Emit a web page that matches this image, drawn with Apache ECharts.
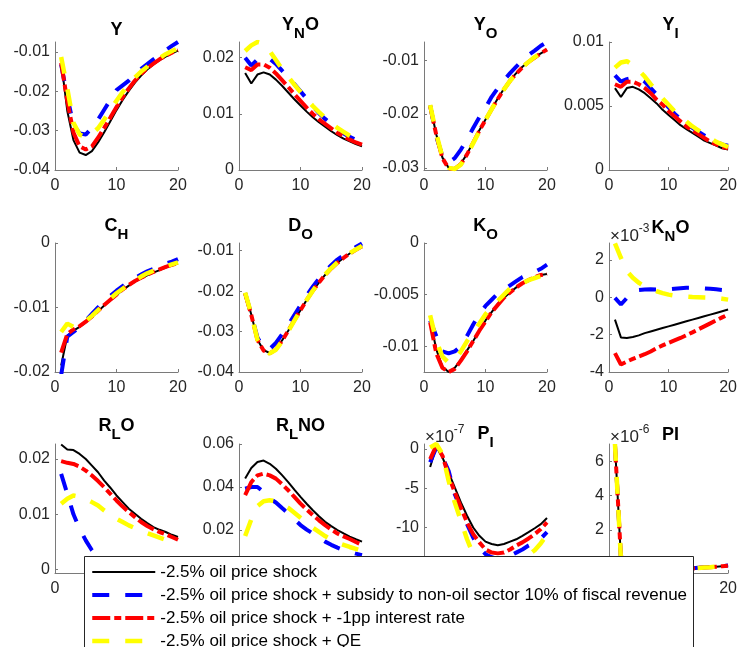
<!DOCTYPE html>
<html><head><meta charset="utf-8">
<script src="https://cdn.jsdelivr.net/npm/echarts@6/dist/echarts.min.js"></script>
<style>html,body{margin:0;padding:0;background:#fff}#c{width:740px;height:647px}</style>
</head><body><div id="c"></div>
<script>
// ---------------- DATA ----------------
const periods = [1,2,3,4,5,6,7,8,9,10,11,12,13,14,15,16,17,18,19,20];
const seriesNames = [
  '-2.5% oil price shock',
  '-2.5% oil price shock + subsidy to non-oil sector 10% of fiscal revenue',
  '-2.5% oil price shock + -1pp interest rate',
  '-2.5% oil price shock + QE'
];
const xTicks = [0, 10, 20];

// Y
const Y_base    = [-0.0125,-0.0250,-0.0324,-0.0356,-0.0362,-0.0352,-0.0330,-0.0304,-0.0276,-0.0248,-0.0222,-0.0199,-0.0178,-0.0160,-0.0145,-0.0132,-0.0121,-0.0112,-0.0104,-0.0097];
const Y_subsidy = [-0.0132,-0.0215,-0.0285,-0.0307,-0.0310,-0.0293,-0.0272,-0.0247,-0.0222,-0.0197,-0.0185,-0.0173,-0.0157,-0.0143,-0.0131,-0.0119,-0.0108,-0.0096,-0.0085,-0.0075];
const Y_rate    = [-0.0128,-0.0225,-0.0305,-0.0340,-0.0348,-0.0340,-0.0318,-0.0293,-0.0267,-0.0240,-0.0215,-0.0193,-0.0173,-0.0156,-0.0142,-0.0130,-0.0119,-0.0110,-0.0102,-0.0096];
const Y_qe      = [-0.0113,-0.0193,-0.0280,-0.0310,-0.0316,-0.0308,-0.0294,-0.0272,-0.0248,-0.0224,-0.0202,-0.0182,-0.0165,-0.0150,-0.0138,-0.0126,-0.0116,-0.0106,-0.0098,-0.0091];
const Y_ticks = [-0.04,-0.03,-0.02,-0.01];
// Y_NO
const YNO_base    = [0.0173,0.0154,0.0170,0.0174,0.0170,0.0161,0.0150,0.0138,0.0126,0.0115,0.0104,0.0094,0.0085,0.0077,0.0069,0.0062,0.0056,0.0051,0.0046,0.0042];
const YNO_subsidy = [0.0200,0.0186,0.0197,0.0201,0.0198,0.0189,0.0177,0.0165,0.0153,0.0140,0.0127,0.0114,0.0101,0.0091,0.0082,0.0073,0.0065,0.0059,0.0054,0.0049];
const YNO_rate    = [0.0183,0.0178,0.0188,0.0188,0.0182,0.0172,0.0160,0.0148,0.0135,0.0123,0.0111,0.0100,0.0090,0.0082,0.0074,0.0066,0.0060,0.0054,0.0049,0.0045];
const YNO_qe      = [0.0212,0.0222,0.0228,0.0225,0.0212,0.0196,0.0180,0.0166,0.0152,0.0139,0.0126,0.0114,0.0103,0.0093,0.0084,0.0075,0.0068,0.0061,0.0055,0.0050];
const YNO_ticks = [0,0.01,0.02];
// Y_O
const YO_base    = [-0.0184,-0.0238,-0.0281,-0.0300,-0.0301,-0.0292,-0.0274,-0.0252,-0.0230,-0.0210,-0.0190,-0.0171,-0.0153,-0.0137,-0.0124,-0.0112,-0.0103,-0.0094,-0.0087,-0.0080];
const YO_subsidy = [-0.0184,-0.0242,-0.0278,-0.0290,-0.0282,-0.0266,-0.0247,-0.0226,-0.0206,-0.0188,-0.0168,-0.0152,-0.0137,-0.0124,-0.0112,-0.0100,-0.0090,-0.0082,-0.0073,-0.0066];
const YO_rate    = [-0.0185,-0.0239,-0.0282,-0.0301,-0.0302,-0.0293,-0.0275,-0.0253,-0.0231,-0.0211,-0.0191,-0.0172,-0.0154,-0.0138,-0.0125,-0.0113,-0.0103,-0.0095,-0.0087,-0.0080];
const YO_qe      = [-0.0183,-0.0237,-0.0280,-0.0300,-0.0302,-0.0294,-0.0276,-0.0254,-0.0232,-0.0211,-0.0191,-0.0172,-0.0154,-0.0138,-0.0125,-0.0113,-0.0103,-0.0094,-0.0087,-0.0080];
const YO_ticks = [-0.03,-0.02,-0.01];
// Y_I
const YI_base    = [0.0064,0.0057,0.0064,0.0065,0.0063,0.0060,0.0056,0.0052,0.0047,0.0043,0.0039,0.0035,0.0032,0.0029,0.0026,0.0023,0.0021,0.0019,0.0017,0.0016];
const YI_subsidy = [0.0074,0.0069,0.0071,0.0072,0.0072,0.0069,0.0064,0.0059,0.0054,0.0049,0.0044,0.0040,0.0036,0.0033,0.0030,0.0027,0.0024,0.0022,0.0020,0.0019];
const YI_rate    = [0.0067,0.0065,0.0069,0.0069,0.0067,0.0064,0.0060,0.0055,0.0051,0.0046,0.0042,0.0038,0.0034,0.0031,0.0028,0.0025,0.0022,0.0020,0.0018,0.0017];
const YI_qe      = [0.0080,0.0084,0.0085,0.0082,0.0078,0.0073,0.0067,0.0062,0.0056,0.0051,0.0046,0.0042,0.0038,0.0034,0.0031,0.0028,0.0025,0.0022,0.0020,0.0018];
const YI_ticks = [0,0.005,0.01];
// C_H
const CH_base    = [-0.0190,-0.0144,-0.0136,-0.0130,-0.0123,-0.0115,-0.0106,-0.0097,-0.0089,-0.0081,-0.0073,-0.0066,-0.0060,-0.0055,-0.0050,-0.0046,-0.0042,-0.0038,-0.0035,-0.0032];
const CH_subsidy = [-0.0205,-0.0145,-0.0138,-0.0130,-0.0120,-0.0110,-0.0100,-0.0091,-0.0082,-0.0074,-0.0067,-0.0060,-0.0054,-0.0049,-0.0044,-0.0040,-0.0036,-0.0032,-0.0029,-0.0025];
const CH_rate    = [-0.0170,-0.0141,-0.0134,-0.0129,-0.0122,-0.0114,-0.0105,-0.0096,-0.0088,-0.0080,-0.0072,-0.0065,-0.0059,-0.0054,-0.0049,-0.0045,-0.0041,-0.0037,-0.0034,-0.0031];
const CH_qe      = [-0.0138,-0.0125,-0.0130,-0.0127,-0.0121,-0.0113,-0.0104,-0.0095,-0.0086,-0.0078,-0.0071,-0.0064,-0.0058,-0.0052,-0.0047,-0.0043,-0.0039,-0.0036,-0.0033,-0.0030];
const CH_ticks = [-0.02,-0.01,0];
// D_O
const DO_base    = [-0.0205,-0.0258,-0.0320,-0.0346,-0.0353,-0.0343,-0.0322,-0.0298,-0.0272,-0.0247,-0.0222,-0.0199,-0.0179,-0.0160,-0.0144,-0.0130,-0.0118,-0.0107,-0.0098,-0.0089];
const DO_subsidy = [-0.0205,-0.0257,-0.0315,-0.0340,-0.0343,-0.0328,-0.0307,-0.0284,-0.0259,-0.0235,-0.0211,-0.0189,-0.0169,-0.0151,-0.0136,-0.0122,-0.0111,-0.0100,-0.0091,-0.0082];
const DO_rate    = [-0.0206,-0.0259,-0.0321,-0.0347,-0.0354,-0.0344,-0.0323,-0.0298,-0.0272,-0.0247,-0.0222,-0.0199,-0.0179,-0.0160,-0.0144,-0.0130,-0.0118,-0.0107,-0.0098,-0.0089];
const DO_qe      = [-0.0204,-0.0257,-0.0320,-0.0346,-0.0354,-0.0345,-0.0324,-0.0299,-0.0273,-0.0247,-0.0222,-0.0199,-0.0178,-0.0159,-0.0143,-0.0129,-0.0117,-0.0106,-0.0097,-0.0088];
const DO_ticks = [-0.04,-0.03,-0.02,-0.01];
// K_O
const KO_base    = [-0.0075,-0.0103,-0.0120,-0.0125,-0.0121,-0.0113,-0.0104,-0.0095,-0.0085,-0.0075,-0.0067,-0.0059,-0.0053,-0.0048,-0.0043,-0.0039,-0.0036,-0.0033,-0.0031,-0.0030];
const KO_subsidy = [-0.0075,-0.0090,-0.0105,-0.0107,-0.0105,-0.0100,-0.0090,-0.0079,-0.0069,-0.0061,-0.0055,-0.0049,-0.0045,-0.0041,-0.0037,-0.0033,-0.0030,-0.0028,-0.0025,-0.0021];
const KO_rate    = [-0.0077,-0.0107,-0.0121,-0.0125,-0.0122,-0.0114,-0.0105,-0.0095,-0.0085,-0.0076,-0.0067,-0.0060,-0.0053,-0.0048,-0.0043,-0.0039,-0.0036,-0.0033,-0.0031,-0.0030];
const KO_qe      = [-0.0070,-0.0095,-0.0110,-0.0116,-0.0113,-0.0105,-0.0095,-0.0087,-0.0078,-0.0069,-0.0062,-0.0056,-0.0050,-0.0044,-0.0041,-0.0039,-0.0036,-0.0034,-0.0032,-0.0030];
const KO_ticks = [-0.01,-0.005,0];
// K_NO (x 1e-3)
const KNO_base    = [-1.20,-2.15,-2.18,-2.13,-2.04,-1.92,-1.83,-1.74,-1.65,-1.56,-1.47,-1.38,-1.29,-1.20,-1.11,-1.02,-0.93,-0.84,-0.75,-0.66];
const KNO_subsidy = [-0.04,-0.39,-0.04,0.32,0.38,0.41,0.42,0.41,0.41,0.42,0.45,0.48,0.50,0.50,0.49,0.47,0.45,0.42,0.39,0.36];
const KNO_rate    = [-2.99,-3.60,-3.44,-3.30,-3.17,-3.05,-2.90,-2.72,-2.58,-2.44,-2.31,-2.18,-2.03,-1.88,-1.72,-1.56,-1.40,-1.24,-1.08,-0.93];
const KNO_qe      = [2.88,2.11,1.40,1.04,0.77,0.59,0.45,0.32,0.22,0.14,0.09,0.05,0.03,0.01,0.00,-0.02,-0.03,-0.04,-0.08,-0.13];
const KNO_ticks = [-4,-2,0,2];
// R_L O
const RLO_base    = [0.0226,0.0217,0.0216,0.0209,0.0200,0.0188,0.0176,0.0161,0.0148,0.0134,0.0122,0.0110,0.0101,0.0092,0.0084,0.0077,0.0072,0.0068,0.0063,0.0059];
const RLO_subsidy = [0.0173,0.0137,0.0100,0.0074,0.0053,0.0035,0.0021,0.0010,0.0002,-0.0003,-0.0005,-0.0006,-0.0005,-0.0003,-0.0001,0.0001,0.0002,0.0003,0.0004,0.0004];
const RLO_rate    = [0.0196,0.0193,0.0191,0.0186,0.0179,0.0170,0.0160,0.0149,0.0137,0.0125,0.0114,0.0104,0.0095,0.0086,0.0079,0.0073,0.0068,0.0064,0.0059,0.0054];
const RLO_qe      = [0.0119,0.0128,0.0134,0.0132,0.0128,0.0122,0.0116,0.0107,0.0099,0.0092,0.0086,0.0080,0.0075,0.0071,0.0066,0.0062,0.0058,0.0054,0.0051,0.0048];
const RLO_ticks = [0,0.01,0.02];
// R_L NO
const RLNO_base    = [0.0439,0.0488,0.0516,0.0523,0.0508,0.0485,0.0455,0.0423,0.0388,0.0354,0.0322,0.0292,0.0264,0.0238,0.0218,0.0200,0.0184,0.0169,0.0157,0.0146];
const RLNO_subsidy = [0.0392,0.0400,0.0400,0.0377,0.0346,0.0328,0.0302,0.0277,0.0250,0.0223,0.0202,0.0184,0.0164,0.0146,0.0131,0.0118,0.0107,0.0098,0.0090,0.0083];
const RLNO_rate    = [0.0362,0.0423,0.0454,0.0462,0.0454,0.0439,0.0413,0.0385,0.0354,0.0323,0.0295,0.0269,0.0245,0.0223,0.0202,0.0184,0.0170,0.0158,0.0144,0.0131];
const RLNO_qe      = [0.0172,0.0249,0.0311,0.0334,0.0338,0.0334,0.0320,0.0303,0.0280,0.0257,0.0234,0.0211,0.0191,0.0172,0.0156,0.0141,0.0131,0.0121,0.0112,0.0103];
const RLNO_ticks = [0,0.02,0.04,0.06];
// P_I (x 1e-7)
const PI_I_base    = [-2.30,0.30,-1.06,-2.98,-4.90,-6.80,-8.50,-10.00,-11.06,-11.80,-12.10,-12.26,-12.10,-11.80,-11.50,-11.06,-10.60,-10.10,-9.57,-8.80];
const PI_I_subsidy = [-1.70,0.20,-1.06,-2.77,-5.74,-7.66,-9.57,-11.30,-12.55,-13.40,-13.80,-14.00,-13.80,-13.60,-13.20,-12.80,-12.30,-11.90,-11.40,-10.60];
const PI_I_rate    = [-1.28,0.43,-0.85,-3.40,-5.50,-7.45,-9.36,-10.85,-11.90,-12.80,-13.20,-13.30,-13.20,-12.80,-12.30,-11.90,-11.40,-10.85,-10.20,-9.36];
const PI_I_qe      = [0.20,0.64,-0.64,-4.04,-6.80,-9.15,-11.50,-13.40,-14.90,-15.70,-15.80,-15.60,-15.20,-14.80,-14.40,-14.00,-13.50,-12.90,-12.00,-10.90];
const PI_I_ticks = [-15,-10,-5,0];
// PI (x 1e-6)
const PI_base    = [7.00,0.35,0.30,-0.30,-0.50,-0.53,-0.48,-0.45,-0.42,-0.38,-0.35,-0.32,-0.29,-0.26,-0.23,-0.21,-0.19,-0.16,-0.13,-0.10];
const PI_subsidy = [7.00,0.30,0.58,-0.20,-0.45,-0.50,-0.47,-0.44,-0.41,-0.38,-0.34,-0.31,-0.28,-0.25,-0.22,-0.20,-0.18,-0.15,-0.12,-0.09];
const PI_rate    = [7.00,0.40,0.28,-0.32,-0.50,-0.52,-0.48,-0.45,-0.42,-0.38,-0.35,-0.32,-0.29,-0.26,-0.23,-0.21,-0.19,-0.16,-0.13,-0.10];
const PI_qe      = [7.03,0.30,0.25,-0.30,-0.49,-0.52,-0.49,-0.46,-0.42,-0.38,-0.35,-0.32,-0.29,-0.26,-0.23,-0.21,-0.19,-0.16,-0.13,-0.09];
const PI_ticks = [0,2,4,6];

// ---------------- LAYOUT / STYLE ----------------
const FONT = '"Liberation Sans", Arial, Helvetica, sans-serif';
const colLeft = [55, 239, 424, 609];
const rowTop = [42, 243, 444];
const rowH = [128, 129, 129];
const plotW = 123;

const panels = [
  {title:'{n|Y}', capTop:21, data:[Y_base,Y_subsidy,Y_rate,Y_qe], ticks:Y_ticks, min:-0.04, max:-0.0075},
  {title:'{n|Y}{s|N}{n|O}', capTop:16, data:[YNO_base,YNO_subsidy,YNO_rate,YNO_qe], ticks:YNO_ticks, min:0, max:0.0228},
  {title:'{n|Y}{s|O}', capTop:16, data:[YO_base,YO_subsidy,YO_rate,YO_qe], ticks:YO_ticks, min:-0.0304, max:-0.0066},
  {title:'{n|Y}{s|I}', capTop:16, data:[YI_base,YI_subsidy,YI_rate,YI_qe], ticks:YI_ticks, min:0, max:0.01},
  {title:'{n|C}{s|H}', capTop:217, data:[CH_base,CH_subsidy,CH_rate,CH_qe], ticks:CH_ticks, min:-0.02, max:0},
  {title:'{n|D}{s|O}', capTop:217, data:[DO_base,DO_subsidy,DO_rate,DO_qe], ticks:DO_ticks, min:-0.04, max:-0.0081},
  {title:'{n|K}{s|O}', capTop:217, data:[KO_base,KO_subsidy,KO_rate,KO_qe], ticks:KO_ticks, min:-0.0125, max:0},
  {title:'{n|K}{s|N}{n|O}', capTop:219, data:[KNO_base,KNO_subsidy,KNO_rate,KNO_qe], ticks:KNO_ticks, min:-4, max:2.9, exp:'-3'},
  {title:'{n|R}{s|L}{n|O}', capTop:417, data:[RLO_base,RLO_subsidy,RLO_rate,RLO_qe], ticks:RLO_ticks, min:-0.0006, max:0.0227},
  {title:'{n|R}{s|L}{n|NO}', capTop:417, data:[RLNO_base,RLNO_subsidy,RLNO_rate,RLNO_qe], ticks:RLNO_ticks, min:0, max:0.06},
  {title:'{n|P}{s|I}', capTop:425, data:[PI_I_base,PI_I_subsidy,PI_I_rate,PI_I_qe], ticks:PI_I_ticks, min:-15.8, max:0.64, exp:'-7'},
  {title:'{n|PI}', capTop:426, data:[PI_base,PI_subsidy,PI_rate,PI_qe], ticks:PI_ticks, min:-0.53, max:7.03, exp:'-6'}
];

const lineStyles = [
  {color:'#000000', width:2, type:'solid'},
  {color:'#0000ff', width:4, type:[17,16]},
  {color:'#ff0000', width:4, type:[18,4,7,4]},
  {color:'#ffff00', width:4.5, type:[17,16]}
];

const grids = [], xAxes = [], yAxes = [], series = [], graphics = [];
const axisColor = '#7a7a7a';
const labelColor = '#262626';

panels.forEach((p, i) => {
  const r = Math.floor(i / 4), c = i % 4;
  grids.push({left: colLeft[c], top: rowTop[r], width: plotW, height: rowH[r], containLabel: false});
  xAxes.push({
    type:'value', gridIndex:i, min:0, max:20,
    axisLine:{show:true, onZero:false, lineStyle:{color:axisColor, width:1}},
    axisTick:{show:true, inside:true, length:3, customValues:xTicks, lineStyle:{color:axisColor}},
    axisLabel:{show:true, customValues:xTicks, margin:8, color:labelColor, fontSize:16, fontFamily:FONT, formatter:v=>String(v)},
    splitLine:{show:false}
  });
  yAxes.push({
    type:'value', gridIndex:i, min:p.min, max:p.max,
    axisLine:{show:true, onZero:false, lineStyle:{color:axisColor, width:1}},
    axisTick:{show:true, inside:true, length:3, customValues:p.ticks, lineStyle:{color:axisColor}},
    axisLabel:{show:true, customValues:p.ticks, margin:5, color:labelColor, fontSize:16, fontFamily:FONT, formatter:v=>String(v)},
    splitLine:{show:false}
  });
  p.data.forEach((arr, k) => {
    series.push({
      type:'line', name:seriesNames[k], xAxisIndex:i, yAxisIndex:i,
      data: periods.map((t, j) => [t, arr[j]]),
      symbol:'none', showSymbol:false, smooth:false, clip:true, silent:true,
      lineStyle:{color:lineStyles[k].color, width:lineStyles[k].width, type:lineStyles[k].type, cap:'butt'},
      itemStyle:{color:lineStyles[k].color}
    });
  });
  // title
  graphics.push({
    type:'text', x: colLeft[c] + plotW/2, y: p.capTop,
    style:{
      text:p.title, align:'center', verticalAlign:'top',
      rich:{
        n:{fontSize:18, fontWeight:'bold', fill:'#000', color:'#000', lineHeight:20, verticalAlign:'top', fontFamily:FONT},
        s:{fontSize:15, fontWeight:'bold', fill:'#000', color:'#000', lineHeight:25, verticalAlign:'bottom', fontFamily:FONT}
      }
    }
  });
  if (p.exp) {
    graphics.push({
      type:'text', x: colLeft[c] + 1, y: rowTop[r] - 20,
      style:{
        text:'{a|\u00d710}{b|' + p.exp + '}', align:'left', verticalAlign:'top',
        rich:{
          a:{fontSize:17, fill:labelColor, color:labelColor, lineHeight:22, verticalAlign:'bottom', fontFamily:FONT},
          b:{fontSize:12, fill:labelColor, color:labelColor, lineHeight:12, verticalAlign:'top', fontFamily:FONT}
        }
      }
    });
  }
});

// legend frame
graphics.push({type:'rect', z:10, shape:{x:84.5, y:556.5, width:609, height:120}, style:{fill:'#ffffff', stroke:'#262626', lineWidth:1}});

const chart = echarts.init(document.getElementById('c'), null, {renderer:'canvas'});
chart.setOption({
  animation:false,
  backgroundColor:'#ffffff',
  textStyle:{fontFamily:FONT},
  grid:grids, xAxis:xAxes, yAxis:yAxes, series:series,
  graphic:graphics,
  legend:{
    z:20, orient:'vertical', left:90, top:560.5, width:600, height:120, padding:0,
    itemWidth:63, itemHeight:23, itemGap:0, selectedMode:false,
    itemStyle:{opacity:0},
    textStyle:{fontSize:17, lineHeight:23, color:'#000', fontFamily:FONT},
    data: seriesNames.map((n, k) => ({name:n, lineStyle:{color:lineStyles[k].color, width:lineStyles[k].width, type:lineStyles[k].type, opacity:1}}))
  }
});
</script></body></html>
